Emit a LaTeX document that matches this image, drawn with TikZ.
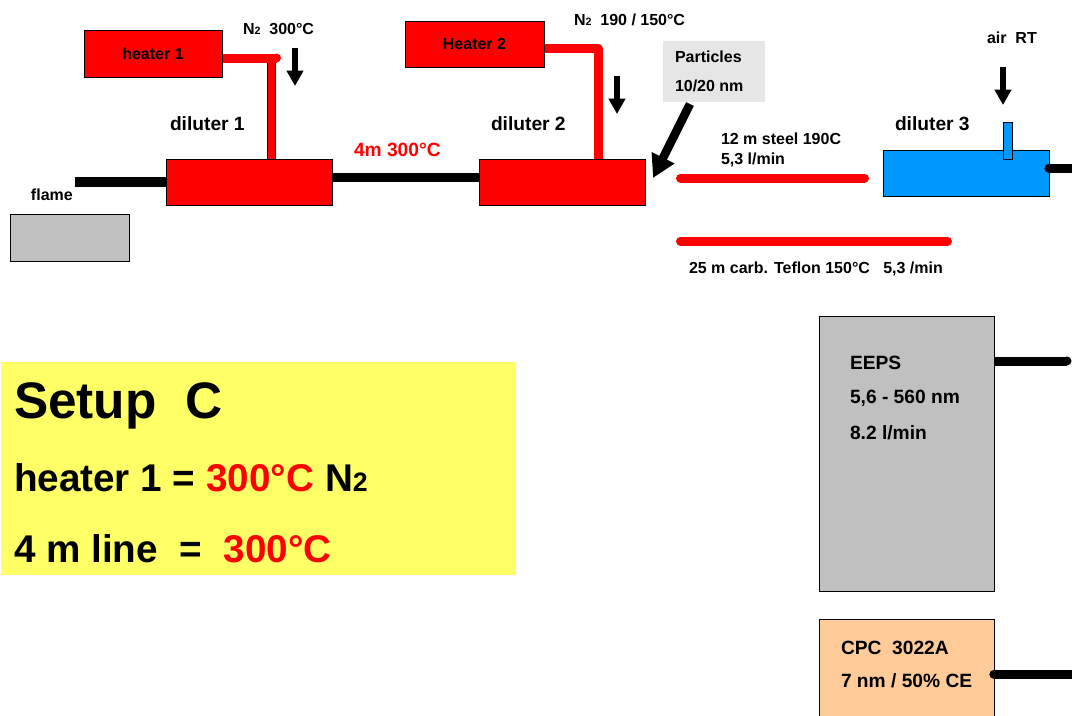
\documentclass[tikz,border=0pt]{standalone}
\usepackage{fontspec}
\setmainfont{Liberation Sans}
\usepackage{xcolor}
\usetikzlibrary{arrows.meta}
\definecolor{boxgray}{HTML}{C0C0C0}
\definecolor{partgray}{HTML}{E6E6E6}
\definecolor{dilblue}{HTML}{0099FF}
\definecolor{cpcorange}{HTML}{FFCC99}
\definecolor{notegold}{HTML}{FFFF66}
\newcommand{\sizept}[1]{\fontsize{#1}{#1}\selectfont\bfseries}

\begin{document}
\begin{tikzpicture}[x=0.75pt, y=-0.75pt, line width=0.75pt,
    unit/.style={draw=black, inner sep=0pt, anchor=north west, font=\sizept{12}},
    lab/.style={inner sep=0pt, anchor=base west, font=\sizept{12}},
    biglab/.style={inner sep=0pt, anchor=base west, font=\sizept{14.4}},
    tube/.style={line width=6.75pt, line cap=round},
    flowarrow/.style={line width=4pt, -{Triangle[width=12pt,length=11.5pt]}}]

  % page is cut at the reference frame, the CPC box runs off the bottom
  \clip (0.5,0) rectangle (1072.5,715);

  % flame, diluters and heaters
  \node[unit, fill=boxgray, minimum width=89.25pt, minimum height=35.25pt] (flame) at (10.5,213.5) {};
  \node[unit, fill=red, minimum width=103.5pt, minimum height=35.25pt] (heatera) at (84,29.5) {heater 1};
  \node[unit, fill=red, minimum width=104.25pt, minimum height=34.5pt] (heaterb) at (405,20.5) {Heater 2};
  \node[unit, fill=red, minimum width=124.5pt, minimum height=34.5pt] (dila) at (166,158.5) {};
  \node[unit, fill=red, minimum width=124.5pt, minimum height=34.5pt] (dilb) at (479,158.5) {};
  \node[unit, fill=dilblue, minimum width=124.5pt, minimum height=34.5pt] (dilc) at (883,149.5) {};
  \node[unit, fill=dilblue, minimum width=6.75pt, minimum height=27.75pt] (airin) at (1003,121.5) {};

  % gas lines
  \coordinate (flameout) at (75,182);
  \draw[line width=7.5pt] (flameout) -- (flameout -| dila.west);
  \coordinate (linkout) at (332,177.5);
  \draw[line width=7pt] (linkout -| dila.east) -- (linkout -| dilb.west);
  \coordinate (cornera) at (272,58);
  \draw[line width=7pt] (cornera) -- (cornera |- dila.north);
  \draw[line width=5.5pt, red] (cornera) -- (cornera |- dila.north);
  \coordinate (capa) at (277,58);
  \draw[line width=6.75pt, red] (capa -| heatera.east) -- (capa);
  \fill[red] (capa) circle[radius=4.5];
  \coordinate (cornerb) at (598.5,48.5);
  \draw[line width=6.75pt, red, line join=round] (cornerb -| heaterb.east) -- (cornerb) -- (cornerb |- dilb.north);

  % sampling lines
  \coordinate (steela) at (681,178);
  \coordinate (steelb) at (865,178);
  \coordinate (tefa) at (681,241);
  \coordinate (tefb) at (948,241);
  \draw[tube, red] (steela) -- (steelb);
  \draw[tube, red] (tefa) -- (tefb);

  % flows coming in from above
  \node[lab] (nheat) at (243,34) {N{\sizept{8}2}~~300°C};
  \node[lab] (nmix) at (574,25) {N{\sizept{8}2}~~190 / 150°C};
  \node[lab] (airlab) at (987,43) {air~~RT};
  \coordinate (nain) at (295.5,48);
  \coordinate (naout) at (295.5,86);
  \coordinate (nbin) at (617.5,76);
  \coordinate (nbout) at (617.5,114);
  \coordinate (airtop) at (1003.5,67);
  \coordinate (airend) at (1003.5,105);
  \draw[flowarrow] (nain) -- (naout);
  \draw[flowarrow] (nbin) -- (nbout);
  \draw[flowarrow] (airtop) -- (airend);

  \node[inner sep=0pt, anchor=north west, fill=partgray, minimum width=76.5pt, minimum height=45.75pt] (partbox) at (663,40) {};
  \node[lab] (partlaba) at (675,62) {Particles};
  \node[lab] (partlabb) at (675,91) {10/20 nm};
  \coordinate (parttail) at (690.5,104);
  \coordinate (parttip) at (653.5,178);
  \draw[line width=6.5pt, -{Triangle[width=18pt,length=17pt]}] (parttail) -- (parttip);

  % text round the upper row
  \node[biglab] (dilaname) at (170,130) {diluter 1};
  \node[biglab] (dilbname) at (491,130) {diluter 2};
  \node[biglab] (dilcname) at (895,130) {diluter 3};
  \node[biglab, text=red] (linkname) at (354,156) {4m 300°C};
  \node[lab] (flamename) at (31,200) {flame};
  \node[lab] (steelname) at (721,144) {12 m steel 190C};
  \node[lab] (steelflow) at (721,164) {5,3 l/min};
  \node[lab] (tefname) at (689,273) {25 m carb. Teflon 150°C~~~5,3 /min};

  % instruments
  \node[unit, fill=boxgray, minimum width=131.25pt, minimum height=206.25pt] (eeps) at (819,315.5) {};
  \node[unit, fill=cpcorange, minimum width=131.25pt, minimum height=90pt] (cpc) at (819,618.5) {};
  \node[biglab] (eepsa) at (850,369) {EEPS};
  \node[biglab] (eepsb) at (850,403) {5,6 - 560 nm};
  \node[biglab] (eepsc) at (850,439) {8.2 l/min};
  \node[biglab] (cpca) at (841,654) {CPC~~3022A};
  \node[biglab] (cpcb) at (841,687) {7 nm / 50\% CE};
  \coordinate (dilcout) at (1080,168);
  \coordinate (eepsout) at (1067.5,361);
  \coordinate (cpcout) at (1080,674);
  \draw[tube] ([xshift=-0.5pt]dilc.east |- dilcout) -- (dilcout);
  \draw[line width=6.75pt] (eeps.east |- eepsout) -- (eepsout);
  \fill (eepsout) circle[radius=4.5];
  \draw[tube] ([xshift=-0.5pt]cpc.east |- cpcout) -- (cpcout);

  % yellow settings panel
  \node[inner sep=0pt, anchor=north west, fill=notegold, minimum width=386.25pt, minimum height=159.75pt] (panel) at (1,361.5) {};
  \node[inner sep=0pt, anchor=base west, font=\sizept{38.5}] (panela) at (14,418.5) {Setup~~C};
  \node[inner sep=0pt, anchor=base west, font=\sizept{29}] (panelb) at (14,491.5) {heater 1 = \textcolor{red}{300°C} N{\sizept{20}2}};
  \node[inner sep=0pt, anchor=base west, font=\sizept{29}] (panelc) at (14,562.5) {4 m line~~=~~\textcolor{red}{300°C}};

\end{tikzpicture}
\end{document}
